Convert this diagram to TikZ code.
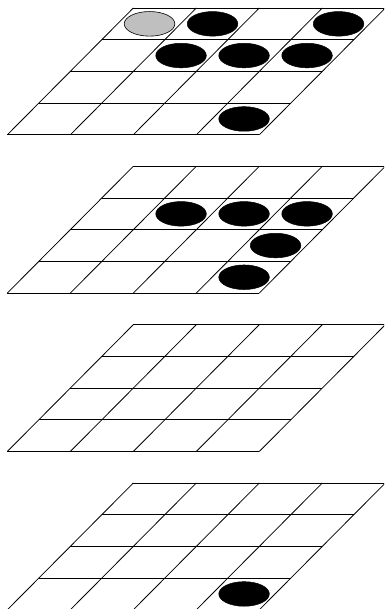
\documentclass[tikz,border=0pt]{standalone}
\begin{document}
\begin{tikzpicture}[x=1pt,y=-1pt,
  gridline/.style={line width=0.8pt,black},
  blackdisc/.style={fill=black,draw=black,line width=0.5pt},
  graydisc/.style={fill=black!25,draw=black,line width=0.6pt}]
\useasboundingbox (0,0) rectangle (384,609);
\clip (0,0) rectangle (384,609);
\def\cw{63}\def\rh{31.7}\def\sh{31.5}
% grids
\foreach \yo in {8,166.3,324.7,483}{
  \foreach \r in {0,...,4}{
    \draw[gridline] ({133.3-\sh*\r},{\yo+\rh*\r}) -- ({133.3+4*\cw-\sh*\r},{\yo+\rh*\r});
  }
  \foreach \c in {0,...,4}{
    \draw[gridline] ({133.3+\cw*\c},{\yo}) -- ({133.3+\cw*\c-4*\sh},{\yo+4*\rh});
  }
}
% discs: (grid offset, col, row)
\foreach \yo/\c/\r/\st in {8/1/0/blackdisc, 8/3/0/blackdisc, 8/1/1/blackdisc, 8/2/1/blackdisc, 8/3/1/blackdisc, 8/3/3/blackdisc, 8/0/0/graydisc,
  166.3/1/1/blackdisc, 166.3/2/1/blackdisc, 166.3/3/1/blackdisc, 166.3/3/2/blackdisc, 166.3/3/3/blackdisc,
  483/3/3/blackdisc}{
  \path[\st] ({133.3+\cw*\c-\sh*\r+\sh/2+0.5},{\yo+\rh*\r+\rh/2}) ellipse [x radius=25.3, y radius=12.3];
}
\end{tikzpicture}
\end{document}
